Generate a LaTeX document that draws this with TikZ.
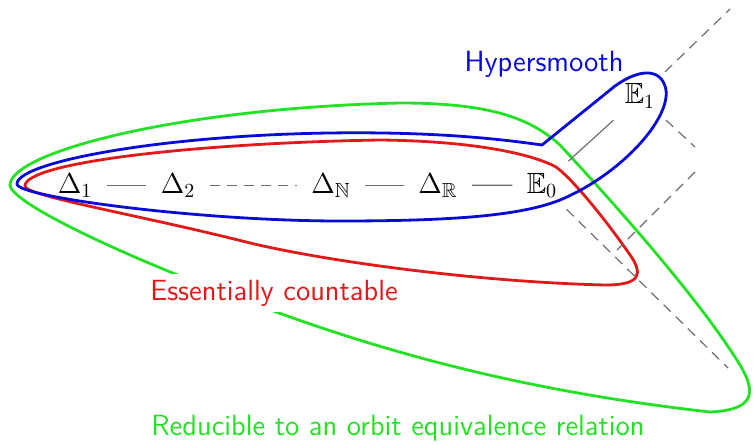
\documentclass[tikz,border=0pt]{standalone}
\usepackage{amsmath,amssymb}
\usepackage{tikz}
\usetikzlibrary{arrows.meta,calc}
\definecolor{hsblue}{RGB}{10,10,215}
\definecolor{ecred}{RGB}{225,25,25}
\definecolor{oegreen}{RGB}{35,225,35}
\definecolor{edgegray}{RGB}{110,110,110}

\begin{document}
\begin{tikzpicture}[x=0.5pt,y=-0.5pt,>=Stealth,
  every node/.style={font=\fontsize{14.6}{17}\selectfont},
  rel/.style={inner sep=3pt,anchor=base},
  link/.style={edgegray,line width=0.6pt,shorten <=4pt,shorten >=4pt},
  dlink/.style={link,dash pattern=on 5pt off 3.5pt},
  region/.style={line width=1.4pt,line join=round},
  lbl/.style={font=\fontsize{14.6}{17}\selectfont\sffamily,anchor=base}]
  \useasboundingbox (0,0) rectangle (754,444);

  % --- regions ---
  % reducible to an orbit equivalence relation
  \draw[region,oegreen] (10,185)
    .. controls (11,152) and (180,108) .. (400,103)
    .. controls (490,103) and (530,118) .. (560,145)
    .. controls (620,210) and (700,300) .. (740,365)
    .. controls (758,395) and (752,410) .. (710,412)
    .. controls (560,395) and (420,365) .. (268,309)
    .. controls (150,268) and (11,205) .. cycle;
  % essentially countable
  \draw[region,ecred] (25,186)
    .. controls (25,162) and (200,143) .. (380,140)
    .. controls (470,141) and (530,153) .. (556,167)
    .. controls (570,177) and (600,212) .. (628,252)
    .. controls (645,275) and (640,285) .. (605,285)
    .. controls (480,282) and (330,262) .. (250,243)
    .. controls (140,215) and (25,196) .. cycle;
  % hypersmooth
  \draw[region,hsblue] (542,145) -- (615,86)
    .. controls (640,68) and (662,68) .. (666,90)
    .. controls (670,120) and (620,175) .. (560,200)
    .. controls (520,216) and (450,221) .. (340,221)
    .. controls (200,221) and (17,197) .. (17,184)
    .. controls (17,160) and (190,130) .. (383,133)
    .. controls (450,134) and (500,139) .. cycle;

  % --- relations ---
  \node[rel] (d1) at (75,193) {$\Delta_1$};
  \node[rel] (d2) at (178,193) {$\Delta_2$};
  \node[rel] (dN) at (331,193) {$\Delta_{\mathbb{N}}$};
  \node[rel] (dR) at (438,193) {$\Delta_{\mathbb{R}}$};
  \node[rel] (e0) at (542,193) {$\mathbb{E}_0$};
  \node[rel] (e1) at (640,104) {$\mathbb{E}_1$};

  \draw[link] (d1) -- (d2);
  \draw[dlink] (d2) -- (dN);
  \draw[link] (dN) -- (dR);
  \draw[link] (dR) -- (e0);
  \draw[link] (e0) -- (e1);

  % continuation upwards
  \coordinate (e1ne) at (730,9);
  \coordinate (e1se) at (695,147);
  \coordinate (upA) at (695,172);
  \coordinate (upB) at (617,250);
  \coordinate (e0se) at (728,368);
  \draw[dlink,shorten >=0pt] (e1) -- (e1ne);
  \draw[dlink,shorten >=0pt] (e1) -- (e1se);
  \draw[dlink,shorten <=0pt,shorten >=0pt] (upA) -- (upB);
  \draw[dlink,shorten >=0pt] (e0) -- (e0se);

  % --- labels ---
  \node[lbl,hsblue] (hslabel) at (544,72) {Hypersmooth};
  \node[lbl,ecred,fill=white,inner sep=3pt] (eclabel) at (274,300) {Essentially countable};
  \node[lbl,oegreen] (oelabel) at (398,435) {Reducible to an orbit equivalence relation};
\end{tikzpicture}
\end{document}
